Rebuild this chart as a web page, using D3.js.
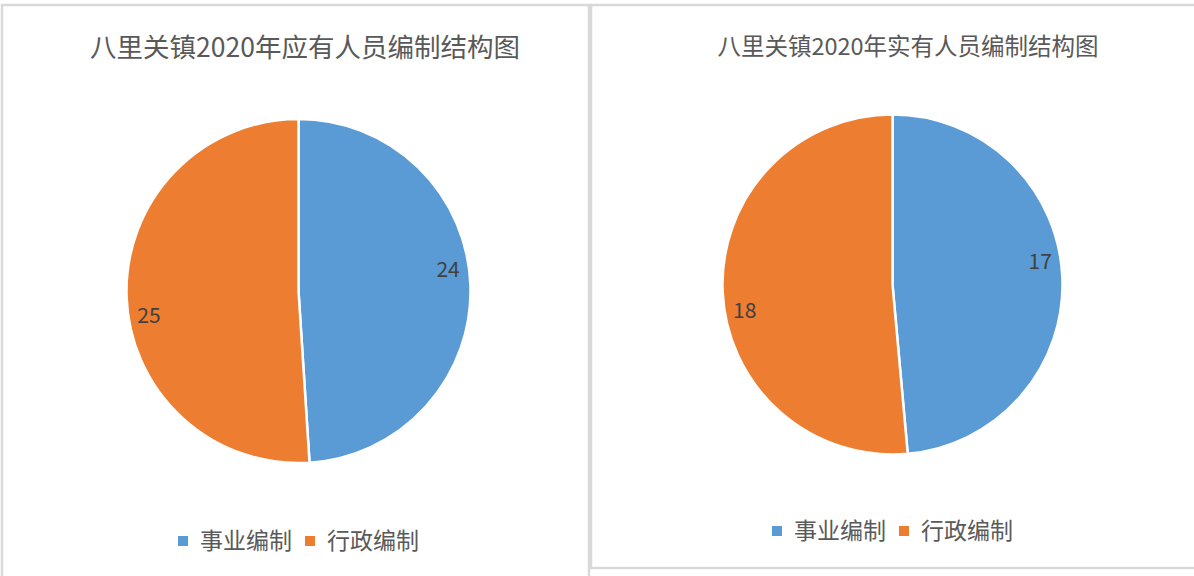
<!DOCTYPE html>
<html>
<head>
<meta charset="utf-8">
<script src="https://cdn.jsdelivr.net/npm/d3@7"></script>
<style>
  body { margin: 0; background: #fff; }
  svg { display: block; font-family: "Noto Sans CJK SC", "Noto Sans", sans-serif; }
</style>
</head>
<body>
<div id="chart"></div>
<script>
// categories and values for each pie
const categories = ['事业编制', '行政编制'];
const colors = ['#5B9BD5', '#ED7D31'];
const plannedValues = [24, 25];
const actualValues = [17, 18];
const titles = ['八里关镇2020年应有人员编制结构图', '八里关镇2020年实有人员编制结构图'];

const W = 1194, H = 576;
const svg = d3.select('#chart').append('svg').attr('width', W).attr('height', H);

// panel layout (box, pie centre, radius, font sizes)
const panels = [
  { x: 2, y: 5, w: 587, h: 580, cx: 298.5, cy: 291, r: 172, titleX: 305, titleY: 57, titleSize: 26.5,
    legendY: 541, values: plannedValues, title: titles[0] },
  { x: 591, y: 5, w: 610, h: 563, cx: 892.5, cy: 284.5, r: 170, titleX: 908, titleY: 55, titleSize: 23.5,
    legendY: 531, values: actualValues, title: titles[1] }
];

// label vertical nudge (fraction of radius) for each slice
const labelNudge = [-0.094, 0.115];

panels.forEach(p => {
  let g = svg.append('g');
  g.append('rect')
    .attr('x', p.x).attr('y', p.y)
    .attr('width', p.w).attr('height', p.h)
    .attr('fill', '#fff')
    .attr('stroke', '#d9d9d9').attr('stroke-width', 2.5);

  g.append('text')
    .attr('x', p.titleX).attr('y', p.titleY)
    .attr('text-anchor', 'middle')
    .style('font-size', p.titleSize + 'px')
    .style('fill', '#595959')
    .text(p.title);

  let pie = d3.pie().sort(null)(p.values);
  let arc = d3.arc().innerRadius(0).outerRadius(p.r);
  let labelArc = d3.arc().innerRadius(p.r * 0.87).outerRadius(p.r * 0.87);

  let pieG = g.append('g').attr('transform', 'translate(' + p.cx + ',' + p.cy + ')');
  pieG.selectAll('path')
    .data(pie)
    .join('path')
    .attr('d', arc)
    .attr('fill', (d, i) => colors[i])
    .attr('stroke', '#fff')
    .attr('stroke-width', 2.5);

  pieG.selectAll('text')
    .data(pie)
    .join('text')
    .attr('transform', d => {
      let c = labelArc.centroid(d);
      return 'translate(' + c[0] + ',' + (c[1] + labelNudge[d.index] * p.r) + ')';
    })
    .attr('text-anchor', 'middle')
    .attr('dy', '0.35em')
    .style('font-size', '21px')
    .style('fill', '#404040')
    .text(d => d.data);

  // legend, centred under the pie
  let fs = 23;
  let sq = 10;
  let itemW = 127;
  let totalW = itemW + sq + 12 + fs * 4;
  let lx = p.cx - totalW / 2;
  let leg = g.append('g').attr('transform', 'translate(' + lx + ',' + p.legendY + ')');
  let items = leg.selectAll('g').data(categories).join('g')
    .attr('transform', (d, i) => 'translate(' + (i * itemW) + ',0)');
  items.append('rect')
    .attr('x', 0).attr('y', -sq / 2)
    .attr('width', sq).attr('height', sq)
    .attr('fill', (d, i) => colors[i]);
  items.append('text')
    .attr('x', sq + 12).attr('y', 0)
    .attr('dy', '0.35em')
    .style('font-size', fs + 'px')
    .style('fill', '#595959')
    .text(d => d);
});
</script>
</body>
</html>
